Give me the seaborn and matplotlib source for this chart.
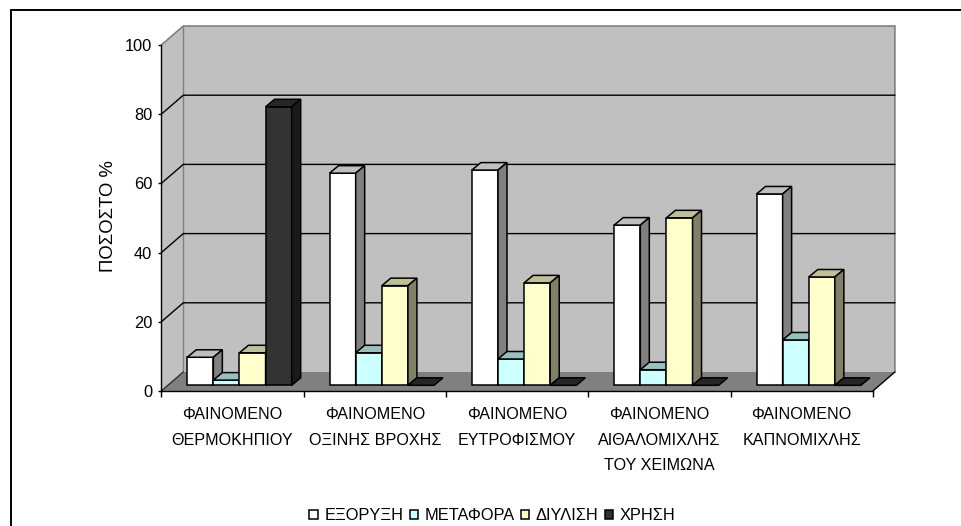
import numpy as np
import pandas as pd
import matplotlib
matplotlib.use("Agg")
import matplotlib.pyplot as plt
from matplotlib.colors import to_rgb
from matplotlib.lines import Line2D
from matplotlib.patches import Polygon
from matplotlib.ticker import FixedLocator, NullFormatter
import seaborn as sns

categories = ["ΦΑΙΝΟΜΕΝΟ\nΘΕΡΜΟΚΗΠΙΟΥ", "ΦΑΙΝΟΜΕΝΟ\nΟΞΙΝΗΣ ΒΡΟΧΗΣ", "ΦΑΙΝΟΜΕΝΟ\nΕΥΤΡΟΦΙΣΜΟΥ",
              "ΦΑΙΝΟΜΕΝΟ\nΑΙΘΑΛΟΜΙΧΛΗΣ\nΤΟΥ ΧΕΙΜΩΝΑ", "ΦΑΙΝΟΜΕΝΟ\nΚΑΠΝΟΜΙΧΛΗΣ"]
series_names = ["ΕΞΟΡΥΞΗ", "ΜΕΤΑΦΟΡΑ", "ΔΙΥΛΙΣΗ", "ΧΡΗΣΗ"]
extraction = [8.1, 61.3, 62.2, 46.3, 55.3]
transport = [1.5, 9.4, 7.6, 4.5, 13.1]
refining = [9.4, 28.8, 29.6, 48.4, 31.3]
use = [80.5, 0, 0, 0, 0]
colors = ["#FFFFFF", "#CCFFFF", "#FFFFCC", "#333333"]
y_ticks = [0, 20, 40, 60, 80, 100]

sns.set_theme(style="white")
plt.rcParams["font.family"] = ["Liberation Sans", "DejaVu Sans"]

W, H = 961, 526
fig = plt.figure(figsize=(W / 100, H / 100), dpi=100, facecolor="white")
L, R, T, B = 161.3, 872.9, 45.0, 391.0
ax = fig.add_axes([L / W, 1 - B / H, (R - L) / W, (B - T) / H])
ax.patch.set_alpha(0)

df = pd.DataFrame({
    "category": np.tile(categories, len(series_names)),
    "series": np.repeat(series_names, len(categories)),
    "value": extraction + transport + refining + use,
})
sns.barplot(data=df, x="category", y="value", hue="series", order=categories,
            hue_order=series_names, palette=colors, width=0.734, gap=0, saturation=1,
            edgecolor="black", linewidth=1.1, errorbar=None, ax=ax)
ax.set_xlim(-0.5, 4.5)
ax.set_ylim(0, 100)

# pixel → data scale factors for the oblique 3D depth
px_x = 5.0 / (R - L)
px_y = 100.0 / (B - T)
wall_dx, wall_dy = 22 * px_x, 19 * px_y
shift_dx, shift_dy = 7 * px_x, 5.7 * px_y
bar_dx, bar_dy = 9 * px_x, 7.5 * px_y

x0, x1 = -0.5, 4.5
wall_kw = dict(clip_on=False, zorder=0.5, joinstyle="miter")
ax.add_patch(Polygon([(x0, 0), (x0 + wall_dx, wall_dy), (x1 + wall_dx, wall_dy), (x1, 0)],
                     facecolor="#808080", edgecolor="none", **wall_kw))
ax.add_patch(Polygon([(x0, 0), (x0 + wall_dx, wall_dy), (x0 + wall_dx, 100 + wall_dy), (x0, 100)],
                     facecolor="#C0C0C0", edgecolor="none", **wall_kw))
ax.add_patch(Polygon([(x0 + wall_dx, wall_dy), (x1 + wall_dx, wall_dy),
                      (x1 + wall_dx, 100 + wall_dy), (x0 + wall_dx, 100 + wall_dy)],
                     facecolor="#C0C0C0", edgecolor="none", **wall_kw))

# wall edges and gridlines
ax.plot([x0, x0 + wall_dx, x1 + wall_dx, x1 + wall_dx],
        [100, 100 + wall_dy, 100 + wall_dy, wall_dy],
        color="#808080", lw=1.2, clip_on=False, zorder=0.8, solid_joinstyle="miter")
ax.plot([x0 + wall_dx, x0 + wall_dx], [wall_dy, 100 + wall_dy],
        color="#808080", lw=1.0, clip_on=False, zorder=0.8)
for v in y_ticks[1:-1]:
    ax.plot([x0, x0 + wall_dx, x1 + wall_dx], [v, v + wall_dy, v + wall_dy],
            color="black", lw=1.0, clip_on=False, zorder=1, solid_joinstyle="miter")
ax.plot([x0, x0 + wall_dx], [0, wall_dy], color="#303030", lw=1.0, clip_on=False, zorder=1)
ax.plot([x1, x1 + wall_dx], [0, wall_dy], color="black", lw=1.0, clip_on=False, zorder=1)

# extrude every bar drawn by seaborn into the oblique depth
bars = sorted([p for p in ax.patches if hasattr(p, "get_width") and p.get_width() > 0],
              key=lambda p: p.get_x())
for i, bar in enumerate(bars):
    z = 3 + i * 0.01
    bar.set_x(bar.get_x() + shift_dx)
    bar.set_y(shift_dy)
    bar.set_zorder(z)
    bar.set_clip_on(False)
    xa, w, ya, h = bar.get_x(), bar.get_width(), bar.get_y(), bar.get_height()
    rgb = np.array(to_rgb(bar.get_facecolor()[:3]))
    ax.add_patch(Polygon([(xa, ya + h), (xa + bar_dx, ya + h + bar_dy),
                          (xa + w + bar_dx, ya + h + bar_dy), (xa + w, ya + h)],
                         facecolor=rgb * 0.75, edgecolor="black", lw=1.1, zorder=z,
                         clip_on=False, joinstyle="miter"))
    if h > 0:
        ax.add_patch(Polygon([(xa + w, ya), (xa + w + bar_dx, ya + bar_dy),
                              (xa + w + bar_dx, ya + h + bar_dy), (xa + w, ya + h)],
                             facecolor=rgb * 0.5, edgecolor="black", lw=1.1, zorder=z,
                             clip_on=False, joinstyle="miter"))

# axes
for s in ("top", "right"):
    ax.spines[s].set_visible(False)
for s in ("left", "bottom"):
    ax.spines[s].set_color("black")
    ax.spines[s].set_linewidth(1.0)
    ax.spines[s].set_zorder(2)

ax.set_yticks(y_ticks)
ax.tick_params(axis="y", which="major", left=True, length=2.5, width=1.0, color="black",
               labelsize=11.8, labelcolor="black", pad=4)
ax.xaxis.set_major_locator(FixedLocator(np.arange(-0.5, 5.0, 1.0)))
ax.xaxis.set_major_formatter(NullFormatter())
ax.set_xticks(np.arange(len(categories)), labels=categories, minor=True)
ax.tick_params(axis="x", which="major", bottom=True, length=4, width=1.0, color="black")
ax.tick_params(axis="x", which="minor", bottom=False, length=0, pad=11.7,
               labelsize=11.6, labelcolor="black")
for t in ax.get_xticklabels(minor=True):
    t.set_linespacing(1.88)

ax.set_xlabel("")
ax.set_ylabel("ΠΟΣΟΣΤΟ %", fontsize=13.3, color="black")
ax.yaxis.set_label_coords((117 - L) / (R - L), (B - 216) / (B - T))

# legend
handles, labels = ax.get_legend_handles_labels()
ax.get_legend().remove()
fig.legend(handles, labels, ncol=4, frameon=False, fontsize=11.8,
           loc="center", bbox_to_anchor=(492.5 / W, 1 - 516 / H),
           handlelength=0.52, handleheight=0.52, handletextpad=0.4,
           columnspacing=0.37, borderpad=0, labelcolor="black")

# top and left chart-area border
fig.add_artist(Line2D([10.5 / W, 10.5 / W], [0, 1 - 9.5 / H], color="black", lw=1.4))
fig.add_artist(Line2D([10.5 / W, 1], [1 - 9.5 / H, 1 - 9.5 / H], color="black", lw=1.4))

fig.savefig("out.png", dpi=100, facecolor="white")
